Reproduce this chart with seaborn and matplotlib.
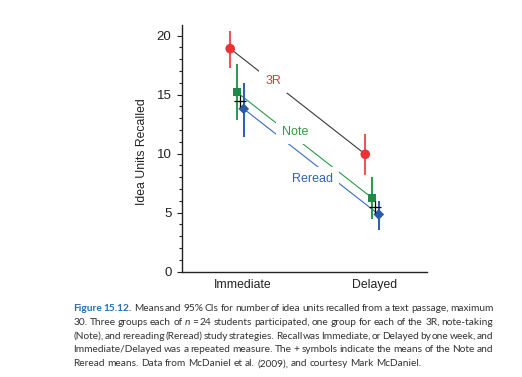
import numpy as np
import pandas as pd
import matplotlib
matplotlib.use('Agg')
import matplotlib.pyplot as plt
import seaborn as sns

# data
groups = ['3R', 'Note', 'Reread']
times = ['Immediate', 'Delayed']
mean_imm = [18.9, 15.2, 13.8]
mean_del = [9.95, 6.25, 4.85]
lo_imm = [17.25, 12.85, 11.4]
hi_imm = [20.4, 17.6, 16.0]
lo_del = [8.2, 4.5, 3.55]
hi_del = [11.7, 8.0, 6.0]
plus_vals = [14.5, 5.5]  # means of Note and Reread

offsets = {'3R': -0.05, 'Note': 0.0, 'Reread': 0.05}
marker_col = {'3R': '#ED3237', 'Note': '#1D8A47', 'Reread': '#2A5BA8'}
bar_col = {'3R': '#F2545C', 'Note': '#2E9A52', 'Reread': '#2F62B0'}
line_col = {'3R': '#3a3a3a', 'Note': '#2A9A48', 'Reread': '#3A6CC0'}
text_col = {'3R': '#F0303C', 'Note': '#2E9A45', 'Reread': '#3563B5'}
label_pos = {'3R': (0.267, 16.15), 'Note': (0.43, 11.85), 'Reread': (0.556, 7.85)}

rows = []
for i, g in enumerate(groups):
    rows.append(dict(group=g, time=0, mean=mean_imm[i], lo=lo_imm[i], hi=hi_imm[i]))
    rows.append(dict(group=g, time=1, mean=mean_del[i], lo=lo_del[i], hi=hi_del[i]))
df = pd.DataFrame(rows)
df['x'] = df['time'] + df['group'].map(offsets)

sns.set_style('ticks')
plt.rcParams['font.family'] = ['Liberation Sans', 'DejaVu Sans']

W, H = 522, 377
fig = plt.figure(figsize=(W / 100, H / 100), dpi=100)
ax = fig.add_axes([182 / W, 1 - 271.7 / H, (427 - 182) / W, (271.7 - 24.7) / H])

# connecting lines
for g in groups:
    d = df[df.group == g]
    ax.plot(d['x'], d['mean'], color=line_col[g], lw=0.8, zorder=1)

# CIs
for g in groups:
    d = df[df.group == g]
    ax.vlines(d['x'], d['lo'], d['hi'], color=bar_col[g], lw=1.5, zorder=2)

sns.scatterplot(data=df, x='x', y='mean', hue='group', style='group', size='group',
                palette=marker_col, markers={'3R': 'o', 'Note': 's', 'Reread': 'D'},
                sizes={'3R': 48, 'Note': 36, 'Reread': 30}, linewidth=0,
                legend=False, ax=ax, zorder=3)

plus_df = pd.DataFrame({'x': [0.025, 1.025], 'mean': plus_vals})
sns.scatterplot(data=plus_df, x='x', y='mean', marker='+', s=70, color='black',
                linewidth=0.9, ax=ax, zorder=4, legend=False)

for g in groups:
    ax.text(*label_pos[g], g, color=text_col[g], fontsize=9, ha='center', va='center',
            zorder=5, bbox=dict(facecolor='white', edgecolor='none', pad=4.5))

ax.set_xlim(-0.407, 1.407)
ax.set_ylim(0, 20.93)
ax.set_xticks([0.045, 1.022])
ax.set_xticklabels(times, fontsize=8.8, color='#222222')
ax.set_yticks([0, 5, 10, 15, 20])
ax.set_yticks(np.arange(0, 21, 1), minor=True)
ax.tick_params(axis='y', labelsize=9.5, length=3.6, width=0.8, pad=4, colors='#222222')
ax.tick_params(axis='y', which='minor', length=2, width=0.8, color='#222222')
ax.tick_params(axis='x', length=0, pad=5)
ax.set_xlabel('')
ax.set_ylabel('Idea Units Recalled', fontsize=8.8, labelpad=12, color='#222222')
ax.yaxis.set_label_coords(-0.138, 0.485)
sns.despine(ax=ax)
for s in ['left', 'bottom']:
    ax.spines[s].set_linewidth(1.0)
    ax.spines[s].set_color('#222222')

# caption, justified
cap_lines = [
    "Figure 15.12. Means and 95% CIs for number of idea units recalled from a text passage, maximum",
    "30. Three groups each of n = 24 students participated, one group for each of the 3R, note-taking",
    "(Note), and rereading (Reread) study strategies. Recall was Immediate, or Delayed by one week, and",
    "Immediate/Delayed was a repeated measure. The + symbols indicate the means of the Note and",
    "Reread means. Data from McDaniel et al. (2009), and courtesy Mark McDaniel.",
]
cap_y = [307.5, 321.3, 335.1, 348.9, 362.7]
x0, x1 = 73.3, 493.3
fig.canvas.draw()
r = fig.canvas.get_renderer()
for li, line in enumerate(cap_lines):
    words = line.split(' ')
    items = []
    for wi, w in enumerate(words):
        kw = dict(fontsize=7.3, color='#333333', family=['Lato', 'DejaVu Sans'],
                  va='center_baseline', ha='left')
        if li == 0 and wi < 2:
            kw.update(color='#2A6FB0', fontweight='bold')
        if li == 1 and w == 'n':
            kw.update(fontstyle='italic')
        items.append(fig.text(0, 1 - cap_y[li] / H, w, **kw))
    widths = [t.get_window_extent(r).width for t in items]
    if li < len(cap_lines) - 1:
        gap = (x1 - x0 - sum(widths)) / (len(words) - 1)
    else:
        gap = 2.4
    x = x0
    for t, w in zip(items, widths):
        t.set_x(x / W)
        x += w + gap

fig.savefig('out.png', dpi=100)
